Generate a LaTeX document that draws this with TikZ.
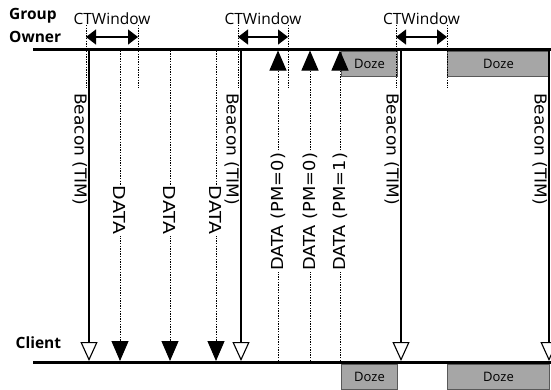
\documentclass[tikz,border=0pt]{standalone}
\usepackage{fontspec}
\setmainfont{Open Sans}
\newfontfamily\lblfont{DejaVu Sans}
\usetikzlibrary{arrows.meta}
\definecolor{dozegray}{HTML}{A6A6A6}
\definecolor{dozeline}{HTML}{595959}
\tikzset{
  timeline/.style={line width=3bp},
  dotline/.style={line width=1bp,dash pattern=on 1.4bp off 1.2bp},
  beacon/.style={line width=1.1bp,-{Triangle[open,length=19bp,width=17bp]}},
  datadn/.style={dotline,-{Triangle[length=20bp,width=17bp]}},
  dataup/.style={dotline,-{Triangle[length=20bp,width=17bp]}},
  ctarrow/.style={line width=1.2bp,{Triangle[length=10bp,width=15bp]}-{Triangle[length=10bp,width=15bp]}},
  lbl/.style={font=\lblfont\fontsize{16.5bp}{18bp}\selectfont,inner sep=1bp},
  dozebox/.style={draw=dozeline,fill=dozegray,line width=1bp,minimum height=25bp,inner sep=0pt,anchor=north west,font=\fontsize{13bp}{15bp}\selectfont}
}
\begin{document}
\begin{tikzpicture}[x=1bp,y=-1bp]
  \useasboundingbox (0,0) rectangle (551,389);
  \node[anchor=north west,inner sep=0pt,align=left,font=\bfseries\fontsize{15.5bp}{23bp}\selectfont] (GO) at (9,8.5) {Group\\Owner};
  \node[anchor=base west,inner sep=0pt,font=\bfseries\fontsize{15.5bp}{18bp}\selectfont] (CL) at (15.5,348) {Client};
  \coordinate (GOs) at (33,49); \coordinate (GOe) at (552,49);
  \coordinate (CLs) at (33,362); \coordinate (CLe) at (552,362);
  \node[dozebox,minimum width=56bp] (DZ1) at (341,50.5) {Doze};
  \node[dozebox,minimum width=102bp] (DZ2) at (447,50.5) {Doze};
  \node[dozebox,minimum width=56bp] (DZ3) at (341,363.5) {Doze};
  \node[dozebox,minimum width=102bp] (DZ4) at (447,363.5) {Doze};
  \draw[timeline] (GOs) -- (GOe);
  \draw[timeline] (CLs) -- (CLe);
  \foreach \a/\b [count=\i] in {86/138,238/288,396/447}{
    \coordinate (Wa\i) at (\a,25); \coordinate (Wb\i) at (\b,25);
    \coordinate (Wc\i) at (\a,88); \coordinate (Wd\i) at (\b,88);
    \coordinate (L\i) at (\a,37); \coordinate (R\i) at (\b,37);
    \draw[dotline] (Wa\i) -- (Wc\i);
    \draw[dotline] (Wb\i) -- (Wd\i);
    \draw[ctarrow] (L\i) -- (R\i);
    \node[font=\fontsize{15.5bp}{18bp}\selectfont] (CT\i) at ({(\a+\b)/2},19) {CTWindow};
  }
  \foreach \x [count=\i] in {89,241,401,549}{
    \coordinate (Bo\i) at (\x,50.5); \coordinate (Bc\i) at (\x,361);
    \draw[beacon] (Bo\i) -- (Bc\i);
    \node[lbl,rotate=-90,xscale=1.03,anchor=north west] (BL\i) at (\x-.6,92) {Beacon (TIM)};
  }
  \foreach \x [count=\i] in {120,170,216}{
    \coordinate (Do\i) at (\x,50.5); \coordinate (Dc\i) at (\x,361);
    \draw[datadn] (Do\i) -- node[lbl,fill=white,rotate=-90,xscale=1.15,pos=.515] (DL\i) {DATA} (Dc\i);
  }
  \foreach \x/\p [count=\i] in {278/0,310/0,340/1}{
    \coordinate (Uc\i) at (\x,361); \coordinate (Uo\i) at (\x,50.5);
    \draw[dataup] (Uc\i) -- node[lbl,fill=white,rotate=90,xscale=1.08,pos=.48] (UL\i) {DATA (PM=\p)} (Uo\i);
  }
\end{tikzpicture}
\end{document}
